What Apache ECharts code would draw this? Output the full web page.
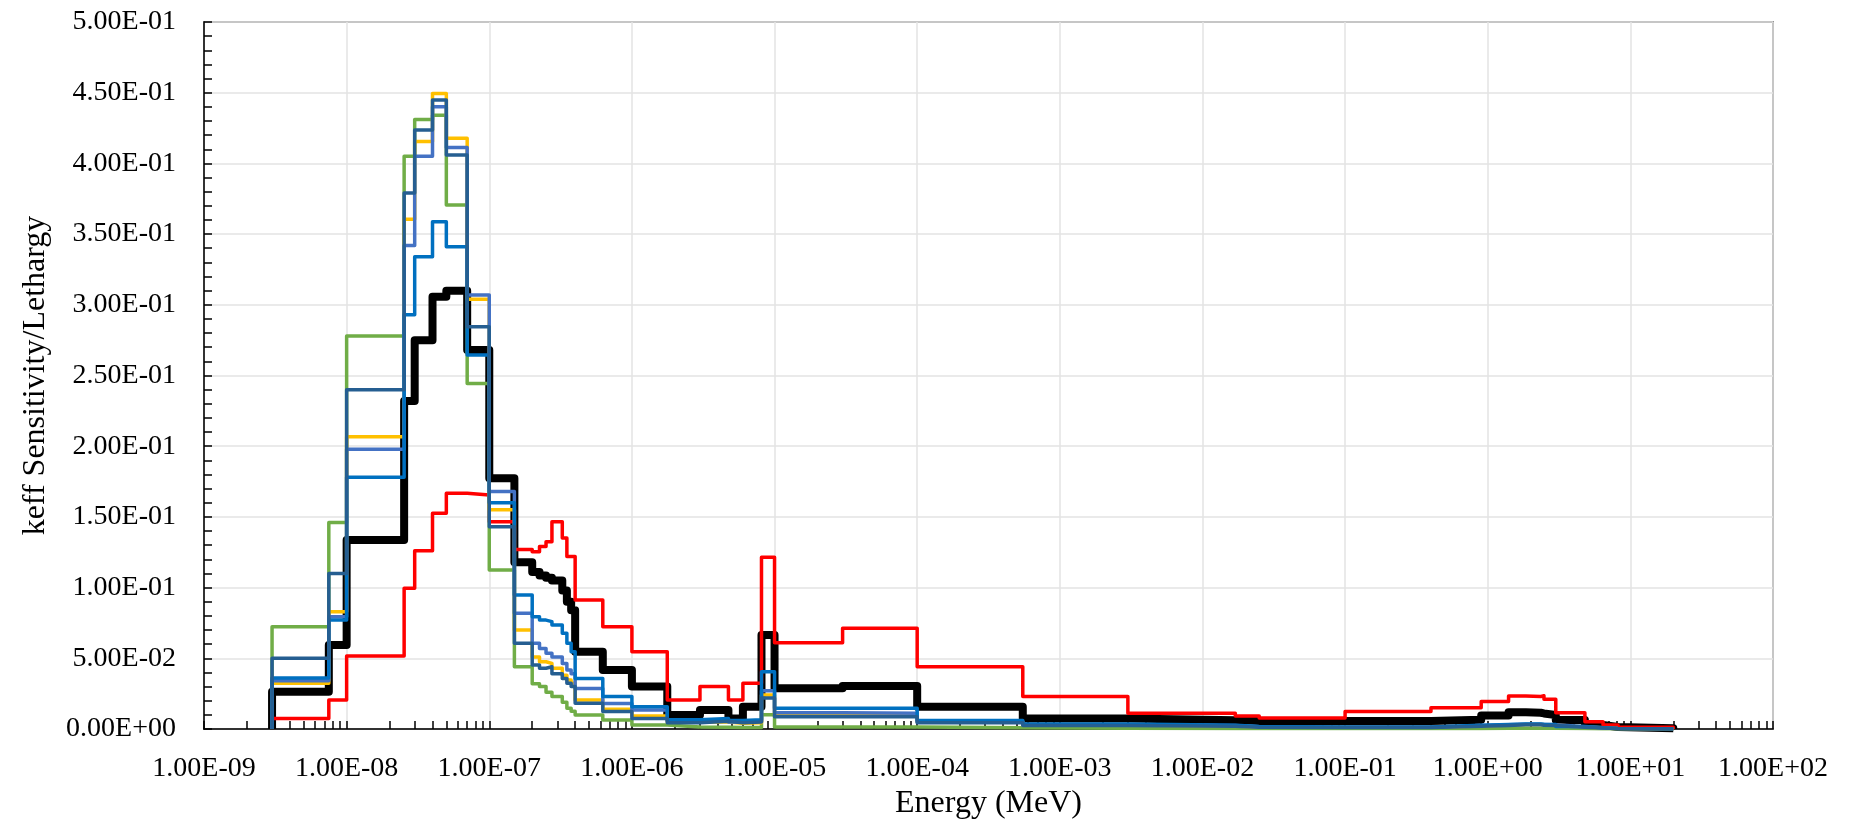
<!DOCTYPE html>
<html>
<head>
<meta charset="utf-8">
<title>keff Sensitivity/Lethargy</title>
<script src="https://cdn.jsdelivr.net/npm/echarts@6/dist/echarts.min.js"></script>
<style>
  html, body { margin: 0; padding: 0; background: #ffffff; }
  #chart { width: 1854px; height: 831px; }
</style>
</head>
<body>
<div id="chart"></div>
<script>
// 44-group energy structure (lower bounds in MeV, first group dropped: it lies below the axis range)
const groupLowerMeV = [
  3e-9, 7.5e-9, 1e-8, 2.53e-8, 3e-8, 4e-8, 5e-8, 7e-8, 1e-7, 1.5e-7,
  2e-7, 2.25e-7, 2.5e-7, 2.75e-7, 3.25e-7, 3.5e-7, 3.75e-7, 4e-7, 6.25e-7, 1e-6,
  1.77e-6, 3e-6, 4.75e-6, 6e-6, 8.1e-6, 1e-5, 3e-5, 1e-4, 5.5e-4, 3e-3,
  1.7e-2, 2.5e-2, 0.1, 0.4, 0.9, 1.4, 1.85, 2.354, 2.479, 3.0,
  4.8, 6.434, 8.187
];
const groupTopMeV = 20;

// sensitivity per unit lethargy, one value per group
const sensBlack = [
  0.0264, 0.0594, 0.1337, 0.232, 0.275, 0.3057, 0.310, 0.268, 0.1773, 0.118,
  0.111, 0.1085, 0.107, 0.105, 0.098, 0.090, 0.084, 0.0547, 0.0417, 0.030,
  0.0099, 0.0134, 0.0075, 0.0158, 0.0665, 0.0288, 0.0304, 0.0158, 0.0075, 0.0062,
  0.0057, 0.0057, 0.0057, 0.0066, 0.0095, 0.0118, 0.0115, 0.0110, 0.0099, 0.0064,
  0.0028, 0.0014, 0.0006
];
const sensRed = [
  0.0075, 0.0205, 0.0516, 0.0995, 0.126, 0.1525, 0.1667, 0.1655, 0.1466, 0.127,
  0.1254, 0.129, 0.1325, 0.1466, 0.135, 0.122, 0.122, 0.0912, 0.0724, 0.0547,
  0.0205, 0.030, 0.0205, 0.0323, 0.1214, 0.061, 0.0712, 0.044, 0.0229, 0.0112,
  0.0092, 0.0077, 0.0123, 0.015, 0.0195, 0.0233, 0.0230, 0.0235, 0.0210, 0.0115,
  0.0052, 0.0028, 0.0012
];
const sensGreen = [
  0.0724, 0.146, 0.278, 0.405, 0.431, 0.434, 0.3706, 0.2444, 0.1124, 0.044,
  0.032, 0.030, 0.026, 0.023, 0.019, 0.0146, 0.0125, 0.0099, 0.0064, 0.0028,
  0.0015, 0.0012, 0.0010, 0.0010, 0.0100, 0.0015, 0.0015, 0.0008, 0.0005, 0.0004,
  0.0003, 0.0003, 0.0003, 0.0004, 0.0005, 0.0006, 0.0006, 0.0005, 0.0005, 0.0004,
  0.0002, 0.0001, 0.0001
];
const sensGold = [
  0.0323, 0.083, 0.2067, 0.3605, 0.4155, 0.4495, 0.4177, 0.304, 0.155, 0.070,
  0.051, 0.0476, 0.0464, 0.0429, 0.038, 0.0347, 0.0323, 0.0205, 0.0139, 0.0092,
  0.0050, 0.0050, 0.0040, 0.0045, 0.0240, 0.0105, 0.0103, 0.0050, 0.0028, 0.0022,
  0.0015, 0.0012, 0.0012, 0.0022, 0.0028, 0.0032, 0.0032, 0.0030, 0.0028, 0.0015,
  0.0008, 0.0004, 0.0002
];
const sensBlue = [
  0.0342, 0.0794, 0.1978, 0.342, 0.405, 0.440, 0.4113, 0.307, 0.168, 0.0818,
  0.0606, 0.057, 0.0535, 0.051, 0.0464, 0.0417, 0.039, 0.0287, 0.018, 0.0134,
  0.0055, 0.0065, 0.0050, 0.0055, 0.027, 0.0115, 0.0112, 0.0052, 0.0030, 0.0024,
  0.0016, 0.0013, 0.0013, 0.0024, 0.0030, 0.0034, 0.0034, 0.0031, 0.0030, 0.0016,
  0.0008, 0.0004, 0.0002
];
const sensBrightBlue = [
  0.036, 0.077, 0.178, 0.293, 0.334, 0.3588, 0.341, 0.2645, 0.160, 0.0948,
  0.0794, 0.077, 0.0759, 0.0735, 0.0677, 0.0606, 0.0547, 0.0358, 0.0229, 0.0158,
  0.0065, 0.0075, 0.0060, 0.0065, 0.0405, 0.0146, 0.0146, 0.0060, 0.0035, 0.0026,
  0.0018, 0.0014, 0.0014, 0.0026, 0.0032, 0.0036, 0.0036, 0.0033, 0.0032, 0.0017,
  0.0009, 0.0004, 0.0002
];
const sensDarkBlue = [
  0.050, 0.110, 0.240, 0.379, 0.4236, 0.4448, 0.406, 0.2845, 0.143, 0.0606,
  0.0453, 0.043, 0.044, 0.039, 0.0358, 0.0323, 0.030, 0.0182, 0.0123, 0.0075,
  0.0045, 0.0055, 0.0045, 0.0050, 0.022, 0.0087, 0.0087, 0.0045, 0.0025, 0.0020,
  0.0012, 0.0010, 0.0010, 0.0020, 0.0025, 0.0030, 0.0030, 0.0027, 0.0025, 0.0013,
  0.0007, 0.0003, 0.0001
];

const xMin = 1e-9, xMax = 1e2;
const yMin = 0, yMax = 0.5, yStep = 0.05;

const FONT = "'Liberation Serif', 'Times New Roman', 'DejaVu Serif', serif";

// "1.00E-09" style scientific labels
function sciLabel(v) {
  const parts = Number(v).toExponential(2).split('e');
  const exp = parseInt(parts[1], 10);
  return parts[0] + 'E' + (exp < 0 ? '-' : '+') + String(Math.abs(exp)).padStart(2, '0');
}

// histogram outline: rise from zero at the first bound, flat across each group, drop at the top bound
function histogramPoints(values) {
  const pts = [[groupLowerMeV[0], 0]];
  values.forEach((v, i) => pts.push([groupLowerMeV[i], v]));
  pts.push([groupTopMeV, 0]);
  return pts;
}

// minor ticks at 1..9 x each decade
const logTickValues = [];
for (let d = -9; d < 2; d++) {
  for (let k = 1; k <= 9; k++) logTickValues.push(k * Math.pow(10, d));
}
logTickValues.push(xMax);

const curves = [
  { name: 'black', values: sensBlack, color: '#000000', width: 8 },
  { name: 'red', values: sensRed, color: '#FF0000', width: 3.5 },
  { name: 'green', values: sensGreen, color: '#70AD47', width: 3.5 },
  { name: 'gold', values: sensGold, color: '#FFC000', width: 3.5 },
  { name: 'blue', values: sensBlue, color: '#4472C4', width: 3.5 },
  { name: 'brightBlue', values: sensBrightBlue, color: '#0070C0', width: 3.5 },
  { name: 'darkBlue', values: sensDarkBlue, color: '#255E91', width: 3.5 }
];

const chart = echarts.init(document.getElementById('chart'), null, { renderer: 'canvas' });

chart.setOption({
  animation: false,
  backgroundColor: '#ffffff',
  grid: {
    left: 204, right: 81, top: 22, bottom: 102,
    show: true, borderColor: '#404040', borderWidth: 1.5, backgroundColor: 'transparent'
  },
  xAxis: [
    {
      type: 'log', logBase: 10, min: xMin, max: xMax, interval: 1,
      name: 'Energy (MeV)', nameLocation: 'middle', nameGap: 45,
      nameTextStyle: { fontFamily: FONT, fontSize: 32, color: '#000' },
      axisLine: { show: true, lineStyle: { color: '#000', width: 1.5 } },
      axisTick: { show: false },
      axisLabel: {
        formatter: sciLabel, margin: 26,
        fontFamily: FONT, fontSize: 28, color: '#000'
      },
      splitLine: { show: true, lineStyle: { color: '#e3e3e3', width: 1.5 } }
    },
    {
      type: 'log', logBase: 10, min: xMin, max: xMax, gridIndex: 0, position: 'bottom',
      axisLine: { show: false },
      axisLabel: { show: false },
      splitLine: { show: false },
      axisTick: {
        show: true, inside: true, length: 8, customValues: logTickValues,
        lineStyle: { color: '#000', width: 1.5 }
      }
    }
  ],
  yAxis: {
    type: 'value', min: yMin, max: yMax, interval: yStep,
    name: 'keff Sensitivity/Lethargy', nameLocation: 'middle', nameGap: 152,
    nameTextStyle: { fontFamily: FONT, fontSize: 32, color: '#000' },
    axisLine: { show: true, lineStyle: { color: '#000', width: 1.5 } },
    axisTick: { show: true, inside: true, length: 8, lineStyle: { color: '#000', width: 1.5 } },
    minorTick: { show: true, splitNumber: 5, length: 8, lineStyle: { color: '#000', width: 1.5 } },
    axisLabel: {
      formatter: sciLabel, margin: 28,
      fontFamily: FONT, fontSize: 28, color: '#000'
    },
    splitLine: { show: true, lineStyle: { color: '#e3e3e3', width: 1.5 } }
  },
  series: curves.map((c, i) => ({
    name: c.name,
    type: 'line',
    xAxisIndex: 0,
    step: 'end',
    showSymbol: false,
    symbol: 'none',
    z: 2 + i,
    lineStyle: { color: c.color, width: c.width, join: 'round', cap: 'butt' },
    data: histogramPoints(c.values)
  }))
});
</script>
</body>
</html>
